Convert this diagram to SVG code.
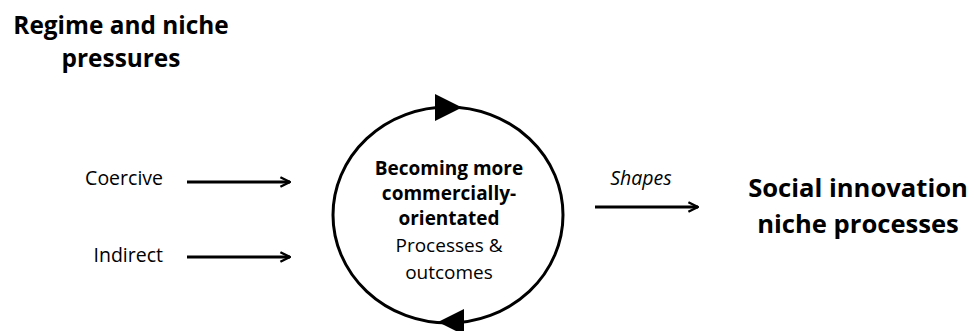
<svg xmlns="http://www.w3.org/2000/svg" width="970" height="331" viewBox="0 0 970 331">
<style>
text{font-family:"Open Sans","Noto Sans",sans-serif;fill:#000}
.h{font-weight:bold;font-size:24.4px}
.h2{font-weight:bold;font-size:25.6px}
.s{font-size:19.5px}
.c{font-size:19px}
.b{font-weight:bold}
.ln{stroke:#000;stroke-width:3;fill:none}
</style>
<defs>
<marker id="ah" viewBox="0 0 10 10" refX="9" refY="5" markerWidth="4" markerHeight="4" orient="auto" markerUnits="strokeWidth">
<path d="M1,1 L9,5 L1,9" fill="none" stroke="#000" stroke-width="2"/>
</marker>
</defs>
<g id="title">
<text class="h" x="121" y="34" text-anchor="middle">Regime and niche</text>
<text class="h" x="121" y="67" text-anchor="middle">pressures</text>
</g>
<g id="coercive"><text class="s" x="163" y="185" text-anchor="end">Coercive</text></g>
<g id="indirect"><text class="s" x="163" y="262" text-anchor="end">Indirect</text></g>
<g id="cycle">
<ellipse class="ln" cx="448" cy="215" rx="115" ry="108"/>
<path d="M435,94 L462,107.5 L435,121 Z" fill="#000"/>
<path d="M464,309 L438,322 L464,335 Z" fill="#000"/>
<text class="c" text-anchor="middle" x="449"><tspan class="b" x="449" y="175">Becoming more</tspan><tspan class="b" x="449" y="200">commercially-</tspan><tspan class="b" x="449" y="225">orientated</tspan><tspan x="449" y="252">Processes &amp;</tspan><tspan x="449" y="279">outcomes</tspan></text>
</g>
<g id="target">
<text class="h2" x="858" y="197" text-anchor="middle">Social innovation</text>
<text class="h2" x="858" y="233" text-anchor="middle">niche processes</text>
</g>
<g id="connectors">
<line class="ln" x1="187" y1="182" x2="290" y2="182" marker-end="url(#ah)"/>
<line class="ln" x1="187" y1="257" x2="290" y2="257" marker-end="url(#ah)"/>
<line class="ln" x1="595" y1="207" x2="698" y2="207" marker-end="url(#ah)"/>
<text class="s" x="641" y="185" text-anchor="middle" font-style="italic">Shapes</text>
</g>
</svg>
